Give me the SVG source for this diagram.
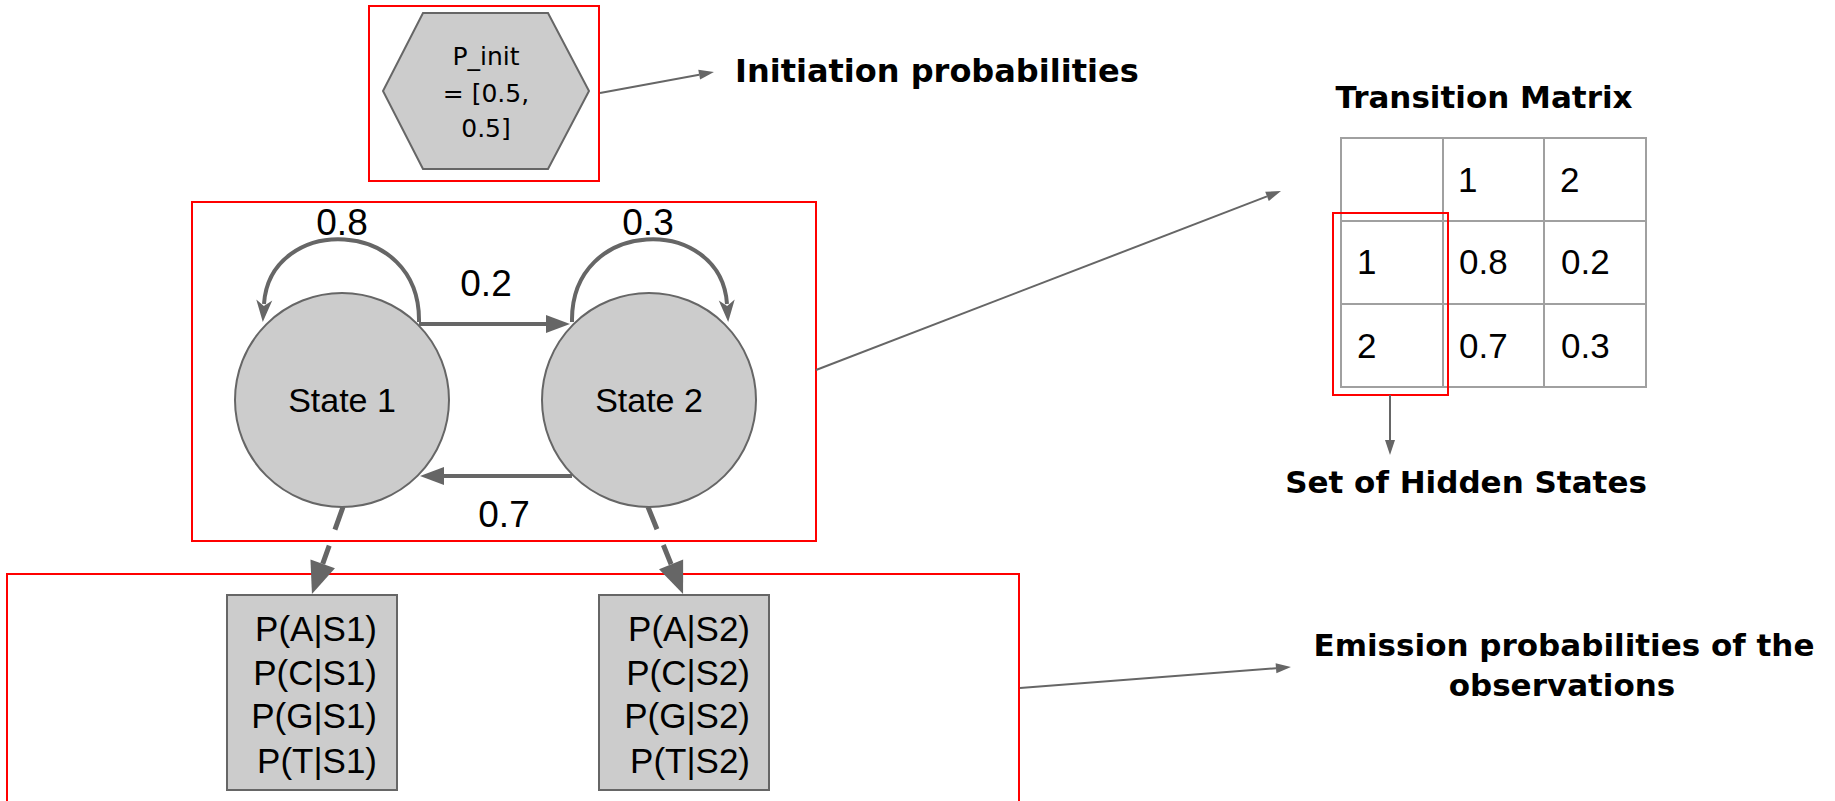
<svg xmlns="http://www.w3.org/2000/svg" width="1835" height="801" viewBox="0 0 1835 801">
<style>
.bg{fill:#ffffff}
.frame{fill:none;stroke:#ff0000;stroke-width:2}
.shape{fill:#cccccc;stroke:#666666;stroke-width:2}
.lbl{font-family:"Liberation Sans",Arial,sans-serif;fill:#000000}
.dj{font-family:"DejaVu Sans",sans-serif;fill:#000000}
.head{font-family:"DejaVu Sans",sans-serif;font-weight:bold;fill:#000000}
.thin{fill:none;stroke:#666666;stroke-width:2}
.thick{fill:none;stroke:#666666;stroke-width:4}
.loop{fill:none;stroke:#666666;stroke-width:4}
.emit{fill:none;stroke:#666666;stroke-width:5;stroke-dasharray:24 17}
.grid{fill:none;stroke:#a0a0a0;stroke-width:2}
</style>
<defs>
<marker id="mThin" markerUnits="userSpaceOnUse" markerWidth="15" markerHeight="10" refX="0" refY="5" orient="auto" overflow="visible">
<path d="M0,0 L15,5 L0,10 z" fill="#666666"/>
</marker>
<marker id="mBig" markerUnits="userSpaceOnUse" markerWidth="24" markerHeight="18" refX="0" refY="9" orient="auto" overflow="visible">
<path d="M0,0 L24,9 L0,18 z" fill="#666666"/>
</marker>
<marker id="mLoop" markerUnits="userSpaceOnUse" markerWidth="22" markerHeight="16" refX="4" refY="8" orient="auto" overflow="visible">
<path d="M0,0 L22,8 L0,16 L6,8 z" fill="#666666"/>
</marker>
<marker id="mEmit" markerUnits="userSpaceOnUse" markerWidth="32" markerHeight="26" refX="0" refY="13" orient="auto" overflow="visible">
<path d="M0,0 L32,13 L0,26 z" fill="#666666"/>
</marker>
</defs>
<rect class="bg" x="0" y="0" width="1835" height="801"/>

<g id="frames">
<rect class="frame" x="369" y="6" width="230" height="175"/>
<rect class="frame" x="192" y="202" width="624" height="339"/>
<rect class="frame" x="7" y="574" width="1012" height="240"/>
</g>

<g id="node-pinit">
<polygon class="shape" points="423,13 548,13 589,91 548,169 423,169 383,91"/>
<text class="dj" font-size="25" text-anchor="middle" x="486" y="65">P_init</text>
<text class="dj" font-size="25" text-anchor="middle" x="486" y="102">= [0.5,</text>
<text class="dj" font-size="25" text-anchor="middle" x="486" y="137">0.5]</text>
</g>

<g id="node-state1">
<circle class="shape" cx="342" cy="400" r="107"/>
<text class="lbl" font-size="34" text-anchor="middle" x="342" y="412">State 1</text>
</g>

<g id="node-state2">
<circle class="shape" cx="649" cy="400" r="107"/>
<text class="lbl" font-size="34" text-anchor="middle" x="649" y="412">State 2</text>
</g>

<g id="node-emit1">
<rect class="shape" x="227" y="595" width="170" height="195"/>
<text class="lbl" font-size="35" text-anchor="end" x="377" y="641">P(A|S1)</text>
<text class="lbl" font-size="35" text-anchor="end" x="377" y="685">P(C|S1)</text>
<text class="lbl" font-size="35" text-anchor="end" x="377" y="728">P(G|S1)</text>
<text class="lbl" font-size="35" text-anchor="end" x="377" y="773">P(T|S1)</text>
</g>

<g id="node-emit2">
<rect class="shape" x="599" y="595" width="170" height="195"/>
<text class="lbl" font-size="35" text-anchor="end" x="750" y="641">P(A|S2)</text>
<text class="lbl" font-size="35" text-anchor="end" x="750" y="685">P(C|S2)</text>
<text class="lbl" font-size="35" text-anchor="end" x="750" y="728">P(G|S2)</text>
<text class="lbl" font-size="35" text-anchor="end" x="750" y="773">P(T|S2)</text>
</g>

<g id="node-matrix">
<text class="head" font-size="31" text-anchor="middle" x="1484" y="108">Transition Matrix</text>
<rect class="grid" x="1341" y="138" width="305" height="249"/>
<line class="grid" x1="1443" y1="138" x2="1443" y2="387"/>
<line class="grid" x1="1544" y1="138" x2="1544" y2="387"/>
<line class="grid" x1="1341" y1="221" x2="1646" y2="221"/>
<line class="grid" x1="1341" y1="304" x2="1646" y2="304"/>
<text class="lbl" font-size="35" x="1458" y="192">1</text>
<text class="lbl" font-size="35" x="1560" y="192">2</text>
<text class="lbl" font-size="35" x="1357" y="274">1</text>
<text class="lbl" font-size="35" x="1459" y="274">0.8</text>
<text class="lbl" font-size="35" x="1561" y="274">0.2</text>
<text class="lbl" font-size="35" x="1357" y="358">2</text>
<text class="lbl" font-size="35" x="1459" y="358">0.7</text>
<text class="lbl" font-size="35" x="1561" y="358">0.3</text>
<rect class="frame" x="1333" y="213" width="115" height="182"/>
</g>

<g id="node-labels">
<text class="head" font-size="32" x="735" y="82">Initiation probabilities</text>
<text class="head" font-size="31" text-anchor="middle" x="1466" y="493">Set of Hidden States</text>
<text class="head" font-size="31" text-anchor="middle" x="1564" y="656">Emission probabilities of the</text>
<text class="head" font-size="31" text-anchor="middle" x="1562" y="696">observations</text>
</g>

<g id="connectors">
<path class="loop" d="M419,322 C421,216 270,214 264,304" marker-end="url(#mLoop)"/>
<path class="loop" d="M572,322 C570,216 721,214 727,304" marker-end="url(#mLoop)"/>
<line class="thick" x1="419" y1="324" x2="546" y2="324" marker-end="url(#mBig)"/>
<line class="thick" x1="572" y1="476" x2="444" y2="476" marker-end="url(#mBig)"/>
<line class="emit" x1="343" y1="507" x2="322.7" y2="563.9" marker-end="url(#mEmit)"/>
<line class="emit" x1="648" y1="507" x2="671.1" y2="564.3" marker-end="url(#mEmit)"/>
<line class="thin" x1="600" y1="93" x2="699.2" y2="74.7" marker-end="url(#mThin)"/>
<line class="thin" x1="816" y1="370" x2="1267" y2="196.4" marker-end="url(#mThin)"/>
<line class="thin" x1="1390" y1="395" x2="1390" y2="440" marker-end="url(#mThin)"/>
<line class="thin" x1="1020" y1="688" x2="1276" y2="668.2" marker-end="url(#mThin)"/>
<text class="lbl" font-size="37" text-anchor="middle" x="342" y="235">0.8</text>
<text class="lbl" font-size="37" text-anchor="middle" x="648" y="235">0.3</text>
<text class="lbl" font-size="37" text-anchor="middle" x="486" y="296">0.2</text>
<text class="lbl" font-size="37" text-anchor="middle" x="504" y="527">0.7</text>
</g>
</svg>
